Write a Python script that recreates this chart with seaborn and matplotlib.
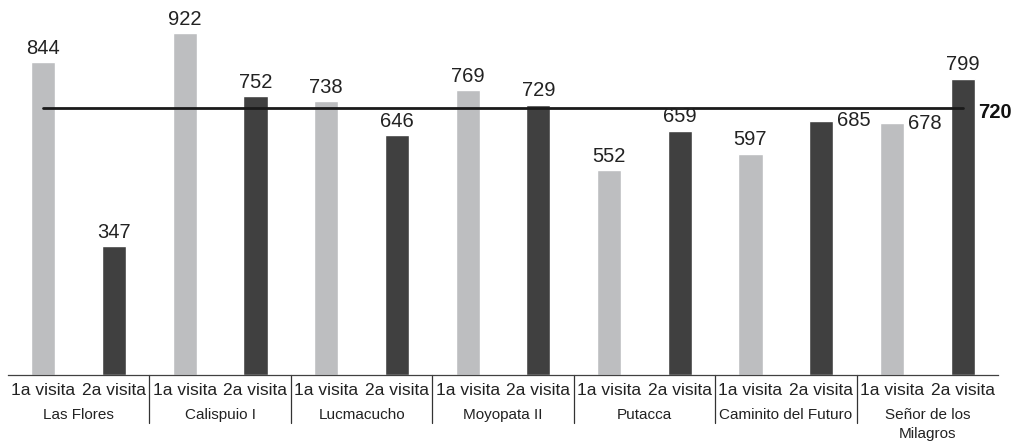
import matplotlib
matplotlib.use("Agg")
import matplotlib.pyplot as plt
import matplotlib.transforms as mtransforms
import pandas as pd
import seaborn as sns

# Data
groups = ["Las Flores", "Calispuio I", "Lucmacucho", "Moyopata II",
          "Putacca", "Caminito del Futuro", "Señor de los\nMilagros"]
visits = ["1a visita", "2a visita"]
first_visit = [844, 922, 738, 769, 552, 597, 678]
second_visit = [347, 752, 646, 729, 659, 685, 799]
reference_value = 720

rows = []
for g, v1, v2 in zip(groups, first_visit, second_visit):
    rows.append({"slot": f"{g} | {visits[0]}", "grupo": g, "visita": visits[0], "valor": v1})
    rows.append({"slot": f"{g} | {visits[1]}", "grupo": g, "visita": visits[1], "valor": v2})
df = pd.DataFrame(rows)

sns.set_theme(style="white")
plt.rcParams["font.family"] = ["Liberation Sans", "DejaVu Sans"]

W, H = 1024, 446
fig = plt.figure(figsize=(W / 100, H / 100), dpi=100)
ax = fig.add_axes([8 / W, 1 - 375 / H, 990 / W, 371 / H])

sns.barplot(data=df, x="slot", y="valor", hue="visita", dodge=False,
            palette={"1a visita": "#bdbec0", "2a visita": "#404040"},
            width=0.34, legend=False, ax=ax, saturation=1)

ax.set_xlim(-0.5, len(df) - 0.5)
ax.set_ylim(0, 1000)
ax.set_xlabel("")
ax.set_ylabel("")
ax.set_yticks([])
for side in ["top", "right", "left"]:
    ax.spines[side].set_visible(False)
ax.spines["bottom"].set_color("#404040")
ax.spines["bottom"].set_linewidth(0.9)

ax.set_xticks(range(len(df)))
ax.set_xticklabels(df["visita"], fontsize=12.5, color="#222222")
ax.tick_params(axis="x", length=0, pad=5.5)

# Value labels
side_labels = {"Caminito del Futuro | 2a visita", "Señor de los\nMilagros | 1a visita"}
for i, row in df.iterrows():
    if row["slot"] in side_labels:
        ax.annotate(f"{row['valor']}", (i + 0.17, row["valor"]), xytext=(3, 0),
                    textcoords="offset points", ha="left", va="center",
                    fontsize=14.5, color="#222222")
    else:
        ax.annotate(f"{row['valor']}", (i, row["valor"]), xytext=(0, 3),
                    textcoords="offset points", ha="center", va="bottom",
                    fontsize=14.5, color="#222222")

# Reference line
ax.plot([0, len(df) - 1], [reference_value, reference_value], color="#1a1a1a", lw=2.0)
ax.annotate(f"{reference_value}", (len(df) - 0.54, reference_value), xytext=(0, -3),
            textcoords="offset points", ha="center", va="center",
            fontsize=14.5, fontweight="bold", color="#111111", annotation_clip=False)

# Group separators and names
trans = mtransforms.blended_transform_factory(ax.transData, ax.transAxes)
sep_bottom = -48 / 371
for k in range(1, len(groups)):
    x = 2 * k - 0.5
    ax.plot([x, x], [0, sep_bottom], color="#333333", lw=0.9,
            transform=trans, clip_on=False)
for k, g in enumerate(groups):
    ax.text(2 * k + 0.5, -33 / 371, g, transform=trans, ha="center", va="top",
            fontsize=11, color="#222222", linespacing=1.45)

fig.savefig("out.png", dpi=100)
